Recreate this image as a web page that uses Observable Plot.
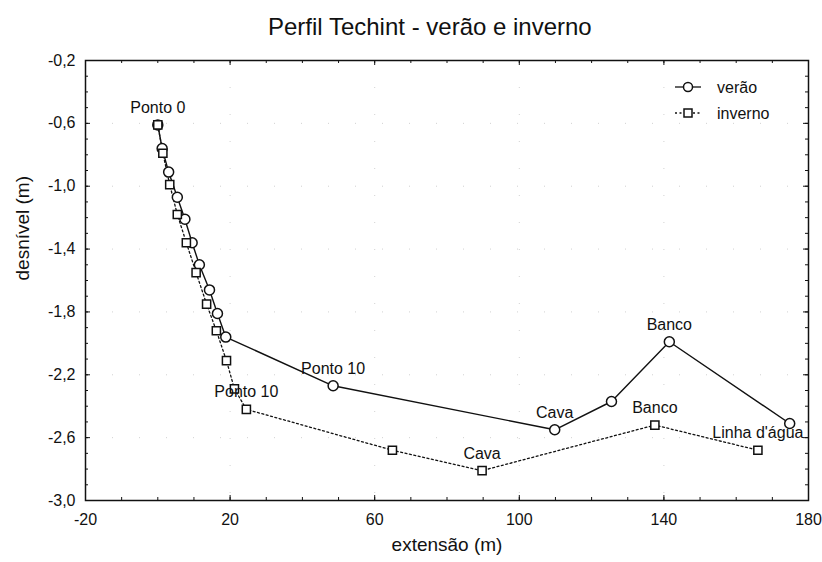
<!DOCTYPE html>
<html>
<head>
<meta charset="utf-8">
<script src="https://cdn.jsdelivr.net/npm/d3@7"></script>
<script src="https://cdn.jsdelivr.net/npm/@observablehq/plot@0.6"></script>
<style>
  html, body { margin: 0; padding: 0; background: #fff; }
  body { width: 822px; height: 562px; overflow: hidden; font-family: "Liberation Sans", Arial, sans-serif; }
  #title { box-sizing: border-box; height: 44px; padding-top: 15px; line-height: 24px; font-size: 24px;
           padding-left: 268px; text-align: left; color: #111; white-space: nowrap; }
</style>
</head>
<body>
<div id="title">Perfil Techint - verão e inverno</div>
<div id="chart"></div>
<script>
// ---- data ----
const xTicks = [-20, 20, 60, 100, 140, 180];
const yTicks = [-3.0, -2.6, -2.2, -1.8, -1.4, -1.0, -0.6, -0.2];

const veraoX = [0, 1.2, 3.0, 5.4, 7.5, 9.5, 11.5, 14.3, 16.5, 18.8, 48.5, 109.8, 125.5, 141.5, 174.8];
const veraoY = [-0.61, -0.76, -0.91, -1.07, -1.21, -1.36, -1.50, -1.66, -1.81, -1.96, -2.27, -2.55, -2.37, -1.99, -2.51];
const veraoLabel = ["", "", "", "", "", "", "", "", "", "", "Ponto 10", "Cava", "", "Banco", ""];

const invernoX = [0, 1.4, 3.3, 5.4, 7.9, 10.6, 13.5, 16.2, 19.0, 21.2, 24.5, 64.9, 89.7, 137.5, 166.0];
const invernoY = [-0.61, -0.79, -0.99, -1.18, -1.36, -1.55, -1.75, -1.92, -2.11, -2.29, -2.42, -2.68, -2.81, -2.52, -2.68];
const invernoLabel = ["Ponto 0", "", "", "", "", "", "", "", "", "", "Ponto 10", "", "Cava", "Banco", "Linha d'água"];

const seriesNames = ["verão", "inverno"];
const xLabel = "extensão (m)";
const yLabel = "desnível (m)";

// ---- tables ----
const verao = veraoX.map((x, i) => ({x, y: veraoY[i], label: veraoLabel[i]}));
const inverno = invernoX.map((x, i) => ({x, y: invernoY[i], label: invernoLabel[i]}));
const labels = [...verao, ...inverno].filter(d => d.label);

const xMinor = d3.range(-20, 181, 10);
const yMinor = d3.range(-30, -1, 1).map(d => d / 10);

const W = 822, H = 518;
const mL = 85, mR = 14, mT = 16, mB = 62;
const fw = W - mL - mR, fh = H - mT - mB;
const fmtY = d => d.toFixed(1).replace(".", ",");
const fmtX = d => String(d);

const plot = Plot.plot({
  width: W, height: H,
  marginLeft: mL, marginRight: mR, marginTop: mT, marginBottom: mB,
  style: {fontFamily: "'Liberation Sans', Arial, sans-serif", fontSize: "16px", color: "#111", background: "#fff"},
  x: {domain: [-20, 180]},
  y: {domain: [-3.0, -0.2]},
  marks: [
    Plot.gridX(xTicks, {stroke: "#999", strokeOpacity: 0.45, strokeDasharray: "1,26"}),
    Plot.gridY(yTicks, {stroke: "#999", strokeOpacity: 0.45, strokeDasharray: "1,26"}),
    // inward ticks on all sides
    Plot.tickX(xTicks, {x: d => d, insetTop: fh - 5, stroke: "#111"}),
    Plot.tickX(xTicks, {x: d => d, insetBottom: fh - 5, stroke: "#111"}),
    Plot.tickX(xMinor, {x: d => d, insetTop: fh - 3, stroke: "#111"}),
    Plot.tickX(xMinor, {x: d => d, insetBottom: fh - 3, stroke: "#111"}),
    Plot.tickY(yTicks, {y: d => d, insetRight: fw - 5, stroke: "#111"}),
    Plot.tickY(yTicks, {y: d => d, insetLeft: fw - 5, stroke: "#111"}),
    Plot.tickY(yMinor, {y: d => d, insetRight: fw - 3, stroke: "#111"}),
    Plot.tickY(yMinor, {y: d => d, insetLeft: fw - 3, stroke: "#111"}),
    Plot.axisX(xTicks, {tickSize: 0, tickPadding: 13, tickFormat: fmtX, label: null, fontSize: 16, fill: "#111"}),
    Plot.axisY(yTicks, {tickSize: 0, tickPadding: 10, tickFormat: fmtY, label: null, fontSize: 16, fill: "#111"}),
    Plot.frame({stroke: "#111", strokeWidth: 1.5}),
    Plot.line(verao, {x: "x", y: "y", stroke: "#111", strokeWidth: 1.4}),
    Plot.line(inverno, {x: "x", y: "y", stroke: "#111", strokeWidth: 1.3, strokeDasharray: "2,2.5"}),
    Plot.dot(verao, {x: "x", y: "y", r: 5, symbol: "circle", fill: "#fff", stroke: "#111", strokeWidth: 1.5}),
    Plot.dot(inverno, {x: "x", y: "y", r: 4.6, symbol: "square", fill: "#fff", stroke: "#111", strokeWidth: 1.5}),
    Plot.text(labels, {x: "x", y: "y", text: "label", dy: -17, fontSize: 16, fill: "#111"}),
    Plot.text([xLabel], {frameAnchor: "bottom", dy: 50, text: d => d, fontSize: 19, fill: "#111"}),
    Plot.text([yLabel], {frameAnchor: "left", dx: -63, rotate: -90, text: d => d, fontSize: 19, fill: "#111"})
  ]
});
document.getElementById("chart").appendChild(plot);

// ---- legend inside the plot (top-right) ----
const svg = d3.select(plot);
const lg = svg.append("g").attr("fill", "none").attr("stroke", "#111");
const legendRows = [
  {name: seriesNames[0], y: 43, dash: null, sym: "circle"},
  {name: seriesNames[1], y: 69, dash: "2,2.5", sym: "square"}
];
legendRows.forEach(r => {
  lg.append("line").attr("x1", 675).attr("x2", 701).attr("y1", r.y).attr("y2", r.y)
    .attr("stroke-width", 1.3).attr("stroke-dasharray", r.dash);
  if (r.sym === "circle") {
    lg.append("circle").attr("cx", 688).attr("cy", r.y).attr("r", 4.5).attr("fill", "#fff").attr("stroke-width", 1.5);
  } else {
    lg.append("rect").attr("x", 684).attr("y", r.y - 4).attr("width", 8).attr("height", 8).attr("fill", "#fff").attr("stroke-width", 1.5);
  }
  svg.append("text").attr("x", 717).attr("y", r.y).attr("dy", "0.35em").attr("text-anchor", "start")
    .attr("fill", "#111").attr("font-size", 16).text(r.name);
});
</script>
</body>
</html>
